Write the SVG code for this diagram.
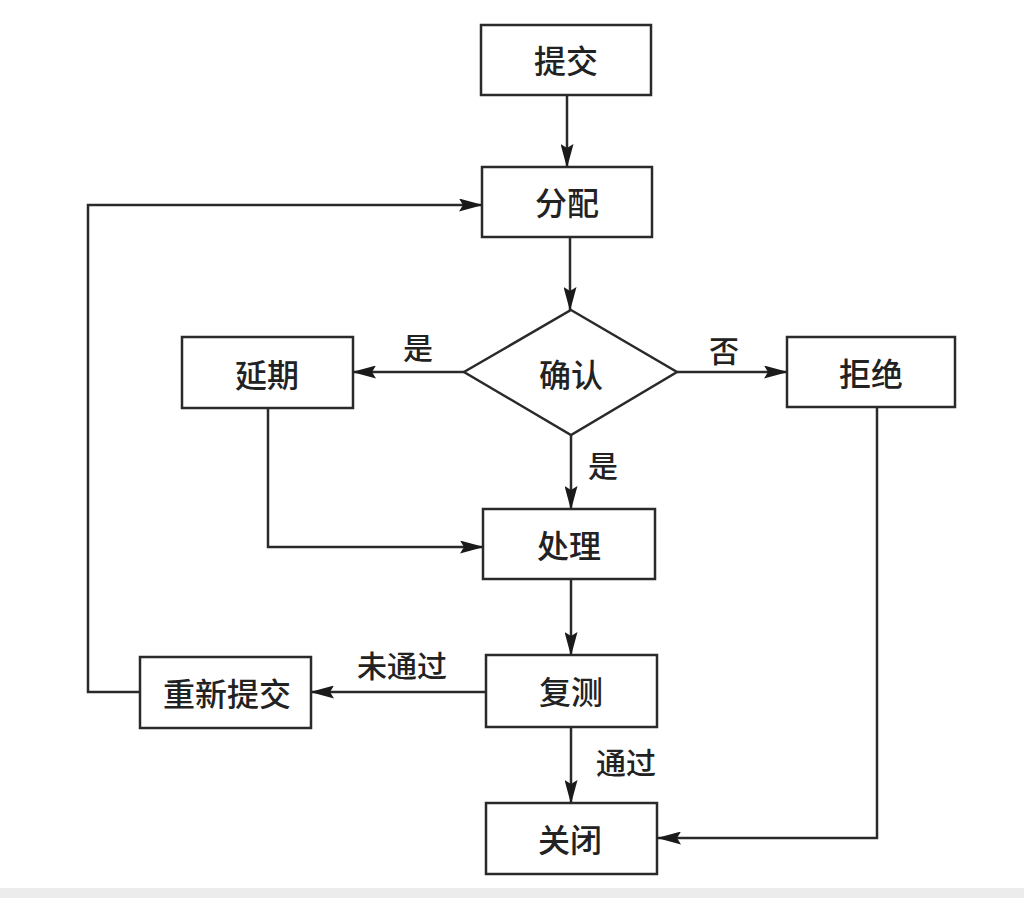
<svg xmlns="http://www.w3.org/2000/svg" width="1024" height="898" viewBox="0 0 1024 898">
<defs>
<style>
.box{fill:#fff;stroke:#2a2a2a;stroke-width:2.5}
.ln{fill:none;stroke:#2a2a2a;stroke-width:2.5}
.t{font-family:"Noto Sans CJK SC",sans-serif;font-size:32px;font-weight:500;fill:#222;text-anchor:middle;dominant-baseline:central}
.lb{font-family:"Noto Sans CJK SC",sans-serif;font-size:30px;font-weight:500;fill:#222;text-anchor:middle;dominant-baseline:central}
</style>
<marker id="ah" markerWidth="24" markerHeight="13" refX="23" refY="6.5" orient="auto" markerUnits="userSpaceOnUse">
<path d="M0,0 L24,6.5 L0,13 L4,6.5 Z" fill="#1a1a1a"/>
</marker>
</defs>
<rect width="1024" height="898" fill="#fff"/>
<rect y="888" width="1024" height="10" fill="#ececec"/>
<g id="connectors">
<line class="ln" x1="567" y1="95" x2="567" y2="167" marker-end="url(#ah)"/>
<line class="ln" x1="570" y1="237" x2="570" y2="310" marker-end="url(#ah)"/>
<line class="ln" x1="464" y1="372" x2="353" y2="372" marker-end="url(#ah)"/>
<line class="ln" x1="677" y1="372" x2="787" y2="372" marker-end="url(#ah)"/>
<line class="ln" x1="571" y1="435" x2="571" y2="509" marker-end="url(#ah)"/>
<polyline class="ln" points="268,408 268,547 483,547" marker-end="url(#ah)"/>
<line class="ln" x1="571" y1="579" x2="571" y2="655" marker-end="url(#ah)"/>
<line class="ln" x1="486" y1="692" x2="311" y2="692" marker-end="url(#ah)"/>
<polyline class="ln" points="140,692 88,692 88,205 482,205" marker-end="url(#ah)"/>
<line class="ln" x1="571" y1="727" x2="571" y2="803" marker-end="url(#ah)"/>
<polyline class="ln" points="877,407 877,838 658,838" marker-end="url(#ah)"/>
<text class="lb" x="418" y="346">是</text>
<text class="lb" x="724" y="349">否</text>
<text class="lb" x="603" y="464">是</text>
<text class="lb" x="402" y="664">未通过</text>
<text class="lb" x="626" y="761">通过</text>
</g>
<g id="submit"><rect class="box" x="481" y="25" width="170" height="70"/><text class="t" x="566" y="59">提交</text></g>
<g id="assign"><rect class="box" x="482" y="167" width="170" height="70"/><text class="t" x="567" y="201">分配</text></g>
<g id="confirm"><polygon class="box" points="571,310 677,372 571,435 464,372"/><text class="t" x="571" y="373">确认</text></g>
<g id="defer"><rect class="box" x="182" y="337" width="171" height="71"/><text class="t" x="267" y="373">延期</text></g>
<g id="reject"><rect class="box" x="787" y="337" width="168" height="70"/><text class="t" x="871" y="372">拒绝</text></g>
<g id="process"><rect class="box" x="483" y="509" width="172" height="70"/><text class="t" x="569" y="544">处理</text></g>
<g id="retest"><rect class="box" x="486" y="655" width="171" height="72"/><text class="t" x="571" y="690">复测</text></g>
<g id="resubmit"><rect class="box" x="140" y="657" width="171" height="71"/><text class="t" x="227" y="692">重新提交</text></g>
<g id="close"><rect class="box" x="486" y="803" width="171" height="71"/><text class="t" x="570" y="838">关闭</text></g>
</svg>
